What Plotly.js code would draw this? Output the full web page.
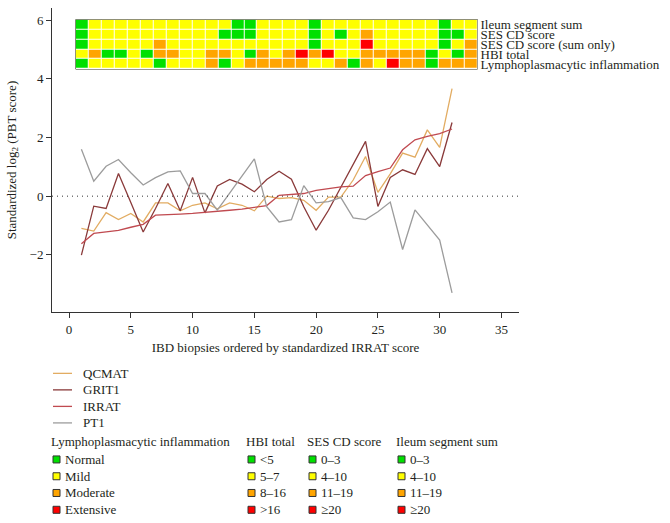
<!DOCTYPE html>
<html><head><meta charset="utf-8">
<script src="https://cdn.plot.ly/plotly-3.0.1.min.js"></script>
<style>html,body{margin:0;padding:0;background:#fff}#chart{width:670px;height:523px}</style>
</head><body><div id="chart"></div>
<script>
// ---- data ----
const biopsy = [1,2,3,4,5,6,7,8,9,10,11,12,13,14,15,16,17,18,19,20,21,22,23,24,25,26,27,28,29,30,31];
const QCMAT = [-1.10,-1.19,-0.56,-0.80,-0.59,-0.88,-0.23,-0.23,-0.50,-0.31,-0.23,-0.43,-0.23,-0.31,-0.50,0.00,-0.08,-0.05,-0.14,-0.48,-0.03,-0.03,0.55,1.35,0.13,0.76,1.47,1.33,2.26,1.66,3.67];
const GRIT1 = [-2.01,-0.34,-0.42,0.77,-0.22,-1.22,-0.42,0.43,-0.50,0.64,-0.57,0.35,0.57,0.41,0.15,0.57,0.85,0.58,-0.36,-1.16,-0.48,0.32,1.11,1.87,-0.35,0.64,0.90,0.74,1.62,1.01,2.51];
const IRRAT = [-1.62,-1.27,-1.22,-1.17,-1.06,-0.96,-0.65,-0.64,-0.61,-0.59,-0.56,-0.51,-0.48,-0.44,-0.39,-0.32,0.03,0.07,0.09,0.20,0.25,0.32,0.34,0.70,0.84,0.96,1.58,1.92,2.04,2.13,2.29];
const PT1 = [1.60,0.51,1.02,1.25,0.80,0.38,0.63,0.83,0.86,0.09,0.09,-0.48,0.10,0.68,1.27,-0.36,-0.88,-0.80,0.36,-0.23,-0.19,-0.05,-0.74,-0.80,-0.53,-0.20,-1.82,-0.47,-0.99,-1.50,-3.30];
const seriesNames = ['QCMAT','GRIT1','IRRAT','PT1'];
const seriesColors = ['#E2AC62','#8A3A3A','#C04A50','#9C9C9C'];

const rowLabels = ['Ileum segment sum','SES CD score','SES CD score (sum only)','HBI total','Lymphoplasmacytic inflammation'];
// levels: 1 = green, 2 = yellow, 3 = orange, 4 = red
const ileumSum  = [1,2,2,2,2,2,2,2,2,2, 2,2,1,1,2,2,2,2,1,2, 2,2,2,2,2,2,2,2,1,2,2];
const sesCD     = [1,2,2,2,2,2,2,2,2,2, 2,1,1,1,2,2,2,2,1,2, 1,2,3,2,2,2,2,2,1,1,2];
const sesSum    = [1,2,2,2,2,2,3,2,2,2, 2,2,2,2,2,2,2,2,1,2, 2,2,4,2,2,2,2,2,1,2,3];
const hbiTotal  = [2,3,1,1,2,1,3,3,2,2, 3,3,2,1,3,2,3,4,3,4, 2,2,3,3,3,3,3,1,2,1,3];
const lymphInfl = [1,2,2,2,2,2,1,2,2,2, 3,1,2,3,3,3,3,3,2,2, 3,1,3,2,4,3,3,1,3,3,3];
const levelColors = ['#00E000','#FFFF00','#FFA500','#FF0000'];

const legendGroups = ['Lymphoplasmacytic inflammation','HBI total','SES CD score','Ileum segment sum'];
const lymphLevels = ['Normal','Mild','Moderate','Extensive'];
const hbiLevels   = ['&lt;5','5–7','8–16','&gt;16'];
const sesLevels   = ['0–3','4–10','11–19','≥20'];
const ileumLevels = ['0–3','4–10','11–19','≥20'];

const xTicks = [0,5,10,15,20,25,30,35];
const yTicks = [-2,0,2,4,6];

// ---- layout geometry (pixels) ----
const L = 52, R = 519, T = 8, B = 311.7;
const W = R - L, H = B - T;
const px = p => (p - L) / W;
const py = p => (B - p) / H;
const FONT = '"Liberation Serif", "Times New Roman", serif';
const TXT = '#231F20';

const traces = [];
const seriesData = [QCMAT, GRIT1, IRRAT, PT1];
seriesData.forEach((s, i) => traces.push({
  type: 'scatter', mode: 'lines', x: biopsy, y: s, name: seriesNames[i],
  line: {color: seriesColors[i], width: 1.3}, showlegend: false, hoverinfo: 'x+y+name'
}));

const cs = [];
levelColors.forEach((c, i) => { cs.push([i / 4, c]); cs.push([(i + 1) / 4, c]); });
traces.push({
  type: 'heatmap', x: biopsy, y: rowLabels,
  z: [ileumSum, sesCD, sesSum, hbiTotal, lymphInfl],
  xaxis: 'x2', yaxis: 'y2', colorscale: cs, zmin: 0.5, zmax: 4.5,
  showscale: false, xgap: 1, ygap: 1, hoverinfo: 'skip'
});

const shapes = [
  {type: 'line', xref: 'x domain', yref: 'y', x0: 0, x1: 1, y0: 0, y1: 0,
   line: {color: '#333', width: 1, dash: '1px,4px'}},
  {type: 'rect', xref: 'x2 domain', yref: 'y2 domain', x0: 0, x1: 1, y0: 0, y1: 1,
   fillcolor: '#3a3a2a', line: {color: '#3a3a2a', width: 1}, layer: 'below'}
];
const annotations = [];
const ann = (text, x, y) => annotations.push({
  text, xref: 'paper', yref: 'paper', x: px(x), y: py(y), xanchor: 'left', yanchor: 'middle',
  showarrow: false, font: {family: FONT, size: 13, color: TXT}
});

// line legend
const lineRows = [373, 389.5, 406, 422.5];
seriesNames.forEach((n, i) => {
  shapes.push({type: 'line', xref: 'paper', yref: 'paper', x0: px(53), x1: px(72), y0: py(lineRows[i]), y1: py(lineRows[i]),
    line: {color: seriesColors[i], width: 1.3}});
  ann(n, 81, lineRows[i]);
});
// categorical legend
const colX = [51, 246, 307, 396];
const levelSets = [lymphLevels, hbiLevels, sesLevels, ileumLevels];
const titleRow = 441.5;
const catRows = [459, 475.8, 492.5, 509.3];
legendGroups.forEach((g, gi) => {
  ann(g, colX[gi] - 2, titleRow);
  levelSets[gi].forEach((lv, li) => {
    const cx = colX[gi] + 5.5, cy = catRows[li];
    shapes.push({type: 'rect', xref: 'paper', yref: 'paper', x0: px(cx - 3.5), x1: px(cx + 3.5), y0: py(cy + 3.5), y1: py(cy - 3.5),
      fillcolor: levelColors[li], line: {color: '#333', width: 1}});
    ann(lv, colX[gi] + 12, cy);
  });
});

const axisFont = {family: FONT, size: 13, color: TXT};
const layout = {
  width: 670, height: 523,
  margin: {l: L, r: 670 - R, t: T, b: 523 - B, pad: 0},
  paper_bgcolor: '#fff', plot_bgcolor: '#fff',
  showlegend: false,
  font: {family: FONT, size: 13, color: TXT},
  xaxis: {
    range: [-1.38, 36.42], tickvals: xTicks, showgrid: false, zeroline: false,
    showline: true, linecolor: '#333', linewidth: 1, ticks: 'outside', ticklen: 5, tickcolor: '#333',
    tickfont: axisFont,
    title: {text: 'IBD biopsies ordered by standardized IRRAT score', font: axisFont, standoff: 7}
  },
  yaxis: {
    range: [-3.95, 6.416], tickvals: yTicks, showgrid: false, zeroline: false,
    showline: true, linecolor: '#333', linewidth: 1, ticks: 'outside', ticklen: 5, tickcolor: '#333',
    tickfont: axisFont,
    title: {text: 'Standardized log<sub>2</sub> (PBT score)', font: axisFont, standoff: 10}
  },
  xaxis2: {domain: [px(75.7), px(477.5)], range: [0.5, 31.5], visible: false, anchor: 'y2'},
  yaxis2: {domain: [py(69), py(19.7)], anchor: 'x2', side: 'right', autorange: 'reversed',
    tickmode: 'array', tickvals: rowLabels, ticktext: rowLabels,
    showgrid: false, zeroline: false, showline: false, ticks: '', ticklabelstandoff: 2,
    tickfont: {family: FONT, size: 13, color: TXT}},
  shapes, annotations
};
Plotly.newPlot('chart', traces, layout, {displayModeBar: false, staticPlot: true});
</script></body></html>
